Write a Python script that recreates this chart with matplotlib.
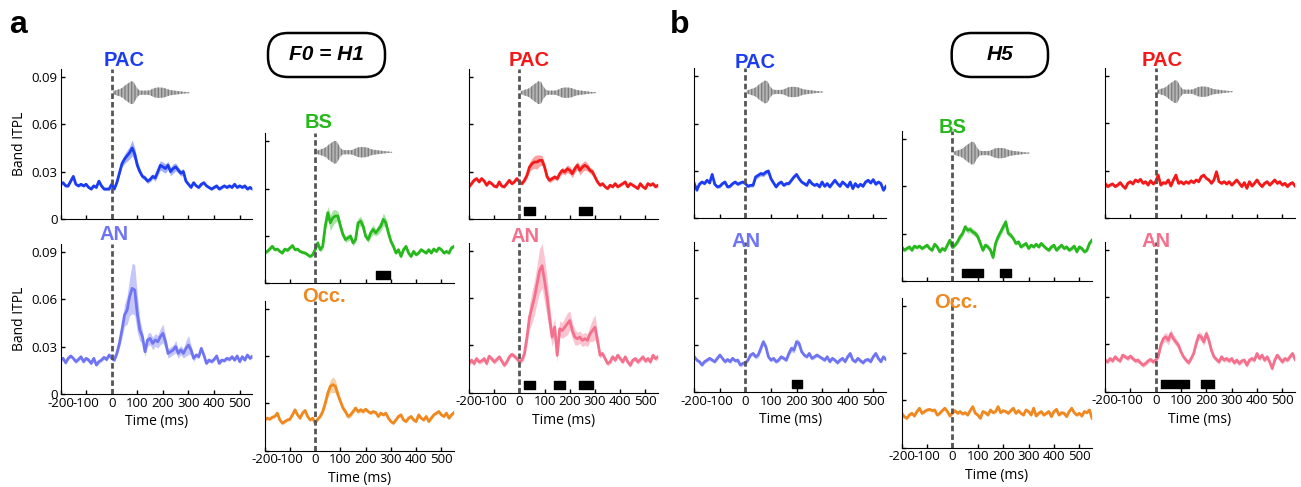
import numpy as np
import matplotlib
matplotlib.use("Agg")
import matplotlib.pyplot as plt
from matplotlib.patches import FancyBboxPatch
from matplotlib.transforms import blended_transform_factory

plt.rcParams['font.family'] = ['Open Sans', 'DejaVu Sans']
plt.rcParams['axes.unicode_minus'] = False
plt.rcParams['hatch.linewidth'] = 0.9

# time axis (ms), one sample every 10 ms
time_ms = np.arange(-200, 551, 10)

# ---- a: F0 = H1 (band ITPL, values in units of 1e-3) ----
pac_left_h1 = [22, 23, 21, 21, 24, 27, 22, 21, 22, 21,
               22, 20, 19, 21, 20, 24, 21, 19, 19, 19,
               22, 19, 23, 29, 35, 38, 40, 42, 45, 41,
               34, 30, 27, 26, 24, 25, 27, 26, 30, 34,
               33, 32, 34, 30, 32, 33, 31, 29, 30, 24,
               22, 20, 23, 21, 20, 22, 23, 21, 20, 19,
               20, 21, 19, 20, 21, 20, 21, 20, 22, 20,
               21, 20, 21, 19, 20, 19]
pac_left_h1_sem = [1, 1, 1, 1, 1, 1, 1, 1, 1, 1,
                   1, 1, 1, 1, 1, 1, 1, 1, 1, 1,
                   1, 1, 1, 1.5, 2, 3, 3.5, 4, 5, 4,
                   3, 2, 1.5, 1.5, 1.5, 1.5, 1.5, 2, 2.5, 3,
                   3, 3, 2.5, 2.5, 3, 2.5, 2, 2, 2, 1.5,
                   1, 1, 1, 1, 1, 1, 1, 1, 1, 1,
                   1, 1, 1, 1, 1, 1, 1, 1, 1, 1,
                   1, 1, 1, 1, 1, 1]

an_left_h1 = [21.5, 22.6, 19.8, 22.6, 24.1, 22.6, 20.5, 21.9, 23.6, 20.5,
              22.6, 21.5, 19.4, 22.6, 18.4, 20.5, 21.5, 23.2, 21.9, 24.7,
              22.6, 21.5, 25.7, 32.0, 40.5, 50.0, 53.0, 61.6, 66.9, 65.8,
              51.0, 40.5, 36.3, 26.8, 34.2, 35.2, 32.0, 34.2, 33.1, 36.3,
              38.4, 33.1, 25.7, 26.8, 27.9, 30.0, 25.7, 27.9, 25.7, 28.9,
              31.0, 27.9, 22.6, 24.7, 23.6, 28.9, 24.7, 19.4, 21.5, 20.5,
              21.9, 24.1, 19.4, 21.5, 21.1, 22.6, 21.9, 23.6, 21.5, 24.1,
              20.5, 23.6, 21.5, 24.7, 22.6, 24.1]
an_left_h1_sem = [1.2, 1.2, 1.2, 1.2, 1.2, 1.2, 1.2, 1.2, 1.2, 1.2,
                  1.2, 1.2, 1.2, 1.2, 1.2, 1.2, 1.2, 1.2, 1.2, 1.2,
                  1.2, 1.2, 2, 3, 5, 7, 9, 12, 16, 16,
                  12, 7, 4, 3, 4, 4, 4, 4, 4, 5,
                  6, 4, 3, 3, 3, 4, 3, 3, 3, 5,
                  6, 3, 2, 1.5, 1.2, 1.2, 1.2, 1.2, 1.2, 1.2,
                  1.2, 1.2, 1.2, 1.2, 1.2, 1.2, 1.2, 1.2, 1.2, 1.2,
                  1.2, 1.2, 1.2, 1.2, 1.2, 1.2]

bs_h1 = [19.2, 20.2, 21.7, 23.4, 21.3, 21.7, 20.2, 19.2, 21.7, 20.9,
         22.4, 23.9, 21.3, 21.7, 20.2, 19.6, 19.2, 18.1, 17.0, 18.1,
         21.3, 25.6, 21.3, 23.4, 36.2, 44.7, 38.3, 41.5, 42.6, 42.6,
         36.2, 30.9, 27.7, 28.8, 29.8, 25.6, 27.7, 38.3, 39.4, 36.2,
         29.8, 27.7, 32.0, 34.1, 32.0, 34.1, 36.2, 40.5, 38.3, 32.0,
         26.6, 23.4, 19.2, 21.3, 17.0, 21.3, 23.4, 19.2, 17.0, 20.2,
         18.1, 19.2, 21.3, 20.2, 19.2, 21.3, 19.2, 21.7, 20.2, 22.4,
         21.3, 19.2, 20.2, 19.2, 22.4, 23.4]
bs_h1_sem = [1, 1, 1, 1, 1, 1, 1, 1, 1, 1,
             1, 1, 1, 1, 1, 1, 1, 1, 1, 1,
             1, 1.5, 1.5, 2, 3, 4, 5, 5, 4, 3,
             3, 2, 2, 2, 2, 2, 2, 3, 3, 3,
             2, 2, 3, 3, 2, 3, 3, 4, 3, 2,
             2, 1.5, 1, 1, 1, 1, 1, 1, 1, 1,
             1, 1, 1, 1, 1, 1, 1, 1, 1, 1,
             1, 1, 1, 1, 1, 1]

occ_h1 = [19.5, 20.6, 20.0, 21.2, 21.7, 23.8, 19.5, 17.4, 18.5, 19.5,
          20.0, 22.7, 25.9, 22.7, 20.6, 23.8, 25.5, 21.7, 19.5, 20.6,
          17.4, 20.0, 21.7, 24.8, 30.1, 36.5, 40.8, 41.8, 40.8, 35.5,
          31.2, 27.0, 24.8, 21.7, 22.7, 24.8, 27.0, 24.8, 25.9, 24.8,
          26.3, 24.8, 23.8, 24.8, 24.2, 21.7, 23.8, 22.7, 23.8, 20.6,
          18.5, 17.4, 19.5, 21.7, 22.7, 19.5, 18.5, 20.6, 21.7, 19.5,
          18.5, 22.7, 20.6, 19.5, 21.7, 18.5, 20.6, 22.7, 23.8, 24.8,
          22.7, 21.7, 23.8, 20.6, 22.7, 24.2]
occ_h1_sem = [1, 1, 1, 1, 1, 1, 1, 1, 1, 1,
              1, 1, 1, 1, 1, 1, 1, 1, 1, 1,
              1, 1, 1, 1.5, 2, 3, 4, 5, 4, 3,
              2, 2, 1.5, 1.5, 1.5, 1.5, 1.5, 1.5, 1.5, 1.5,
              1, 1, 1, 1, 1, 1, 1, 1, 1, 1,
              1, 1, 1, 1, 1, 1, 1, 1, 1, 1,
              1, 1, 1, 1, 1, 1, 1, 1, 1, 1,
              1, 1, 1, 1, 1, 1]

pac_right_h1 = [20.4, 22.4, 24.5, 25.6, 23.5, 25.6, 24.1, 21.4, 23.5, 22.4,
                20.8, 20.4, 23.5, 20.8, 20.4, 22.4, 24.5, 22.4, 23.5, 25.6,
                23.5, 22.4, 24.5, 27.7, 32.9, 35.0, 36.1, 36.1, 37.1, 37.1,
                32.9, 26.6, 24.5, 25.6, 26.6, 25.6, 28.7, 30.8, 29.8, 31.9,
                30.8, 28.7, 31.9, 34.0, 30.8, 32.9, 34.0, 32.9, 30.8, 29.8,
                26.6, 23.5, 21.4, 22.4, 20.4, 19.3, 21.4, 20.4, 22.4, 20.4,
                21.4, 22.4, 23.5, 20.4, 22.4, 21.4, 20.4, 19.3, 22.4, 20.4,
                19.3, 22.4, 21.4, 22.4, 20.4, 21.4]
pac_right_h1_sem = [1, 1, 1, 1, 1, 1, 1, 1, 1, 1,
                    1, 1, 1, 1, 1, 1, 1, 1, 1, 1,
                    1, 1, 1.5, 2, 3, 3.5, 4, 4.5, 3.5, 3,
                    2.5, 2, 1.5, 1.5, 1.5, 1.5, 2, 2, 2, 2.5,
                    2.5, 2.5, 2.5, 2.5, 3, 3, 3, 2.5, 2, 2,
                    1.5, 1, 1, 1, 1, 1, 1, 1, 1, 1,
                    1, 1, 1, 1, 1, 1, 1, 1, 1, 1,
                    1, 1, 1, 1, 1, 1]

an_right_h1 = [18.5, 20.6, 18.5, 21.6, 19.5, 20.1, 21.6, 18.5, 23.1, 21.6,
               19.5, 21.0, 22.7, 20.1, 17.4, 19.5, 22.7, 24.3, 23.1, 21.6,
               19.5, 20.6, 24.8, 35.2, 47.8, 54.1, 60.4, 68.8, 77.2, 80.4,
               70.9, 60.4, 46.8, 35.2, 41.5, 23.7, 40.5, 39.4, 41.5, 43.6,
               45.7, 39.4, 35.2, 34.2, 35.2, 33.1, 34.2, 33.1, 37.3, 39.4,
               41.5, 33.1, 23.7, 24.8, 21.6, 18.5, 19.5, 22.7, 20.6, 23.7,
               21.6, 19.5, 22.7, 19.5, 17.4, 20.6, 21.6, 19.5, 21.0, 22.7,
               20.1, 21.6, 19.5, 23.7, 21.6, 22.7]
an_right_h1_sem = [1.5, 1.5, 1.5, 1.5, 1.5, 1.5, 1.5, 1.5, 1.5, 1.5,
                   1.5, 1.5, 1.5, 1.5, 1.5, 1.5, 1.5, 1.5, 1.5, 1.5,
                   1.5, 1.5, 3, 5, 8, 10, 11, 12, 14, 14,
                   14, 12, 9, 6, 6, 4, 5, 5, 6, 7,
                   6, 5, 5, 4, 4, 4, 4, 4, 5, 7,
                   8, 4, 2, 1.5, 1.5, 1.5, 1.5, 1.5, 1.5, 1.5,
                   1.5, 1.5, 1.5, 1.5, 1.5, 1.5, 1.5, 1.5, 1.5, 1.5,
                   1.5, 1.5, 1.5, 1.5, 1.5, 1.5]

# ---- b: H5 ----
pac_left_h5 = [22.0, 17.8, 21.6, 23.0, 22.0, 24.1, 22.4, 27.8, 21.6, 19.9,
               20.3, 22.0, 23.0, 19.9, 20.3, 22.0, 23.0, 21.6, 22.4, 23.0,
               22.0, 20.3, 20.9, 20.9, 26.2, 27.2, 28.3, 27.8, 29.3, 29.9,
               25.1, 22.4, 19.9, 22.0, 23.0, 20.9, 22.0, 22.0, 24.1, 26.2,
               27.8, 25.1, 23.0, 22.0, 20.9, 24.1, 22.0, 20.9, 21.6, 19.9,
               23.0, 20.3, 22.0, 19.9, 22.0, 24.1, 22.0, 20.3, 23.0, 21.6,
               19.9, 23.0, 18.8, 22.0, 19.9, 21.6, 20.3, 23.0, 24.1, 22.4,
               24.5, 21.6, 23.0, 22.0, 17.8, 20.3]
pac_left_h5_sem = [1, 1, 1, 1, 1, 1, 1, 1, 1, 1,
                   1, 1, 1, 1, 1, 1, 1, 1, 1, 1,
                   1, 1, 1, 1, 1.5, 1.5, 1.5, 1.5, 1.5, 1.5,
                   1.5, 1, 1, 1, 1, 1, 1, 1, 1, 1,
                   1, 1, 1, 1, 1, 1, 1, 1, 1, 1,
                   1, 1, 1, 1, 1, 1, 1, 1, 1, 1,
                   1, 1, 1, 1, 1, 1, 1, 1, 1, 1,
                   1, 1, 1, 1, 1, 1]

an_left_h5 = [22.5, 20.4, 19.4, 17.3, 19.4, 20.4, 21.5, 20.4, 19.4, 21.5,
              23.6, 21.5, 19.4, 20.8, 19.4, 21.5, 20.0, 20.4, 17.3, 18.3,
              18.7, 20.4, 23.6, 24.6, 22.5, 23.6, 27.8, 32.0, 28.8, 22.5,
              20.4, 21.5, 19.4, 20.4, 22.5, 21.5, 20.4, 24.6, 27.8, 26.7,
              32.0, 30.9, 25.7, 23.6, 22.5, 24.6, 21.5, 22.5, 23.6, 22.5,
              21.5, 20.4, 22.5, 19.4, 21.5, 20.4, 18.7, 20.4, 21.5, 19.4,
              22.5, 24.6, 20.4, 19.4, 21.5, 20.0, 18.7, 20.4, 20.8, 19.4,
              22.5, 24.6, 21.5, 19.4, 22.5, 20.8]
an_left_h5_sem = [1.2, 1.2, 1.2, 1.2, 1.2, 1.2, 1.2, 1.2, 1.2, 1.2,
                  1.2, 1.2, 1.2, 1.2, 1.2, 1.2, 1.2, 1.2, 1.2, 1.2,
                  1.2, 1.2, 1.2, 1.2, 1.5, 1.5, 2, 2, 2, 1.5,
                  1.2, 1.2, 1.2, 1.2, 1.2, 1.2, 1.2, 1.5, 2, 2,
                  2, 2, 1.5, 1.2, 1.2, 1.2, 1.2, 1.2, 1.2, 1.2,
                  1.2, 1.2, 1.2, 1.2, 1.2, 1.2, 1.2, 1.2, 1.2, 1.2,
                  1.2, 1.2, 1.2, 1.2, 1.2, 1.2, 1.2, 1.2, 1.2, 1.2,
                  1.2, 1.2, 1.2, 1.2, 1.2, 1.2]

bs_h5 = [21.6, 19.5, 20.6, 21.6, 19.5, 22.1, 21.2, 22.1, 20.6, 21.6,
         22.7, 20.6, 19.5, 23.3, 21.6, 18.5, 20.6, 19.5, 22.7, 25.9,
         21.2, 22.7, 24.8, 28.0, 30.1, 34.3, 32.2, 32.6, 31.1, 30.1,
         28.0, 23.8, 19.5, 22.7, 21.6, 19.5, 14.9, 23.8, 28.0, 31.1,
         34.3, 37.4, 30.1, 29.0, 26.9, 23.8, 24.8, 21.6, 22.7, 23.8,
         20.6, 22.7, 21.6, 23.3, 21.6, 23.8, 22.1, 20.6, 19.5, 21.6,
         22.7, 19.5, 21.2, 22.7, 20.6, 21.6, 19.5, 20.6, 22.1, 18.5,
         21.6, 20.6, 18.5, 19.5, 23.8, 25.9]
bs_h5_sem = [1.2, 1.2, 1.2, 1.2, 1.2, 1.2, 1.2, 1.2, 1.2, 1.2,
             1.2, 1.2, 1.2, 1.2, 1.2, 1.2, 1.2, 1.2, 1.2, 1.2,
             1.2, 1.2, 1.5, 2, 2, 2, 2, 2, 2, 2,
             2, 2, 1.5, 1.5, 1.5, 1.5, 1.5, 1.5, 2, 2.5,
             2.5, 2.5, 2, 1.5, 1.2, 1.2, 1.2, 1.2, 1.2, 1.2,
             1.2, 1.2, 1.2, 1.2, 1.2, 1.2, 1.2, 1.2, 1.2, 1.2,
             1.2, 1.2, 1.2, 1.2, 1.2, 1.2, 1.2, 1.2, 1.2, 1.2,
             1.2, 1.2, 1.2, 1.2, 1.2, 1.2]

occ_h5 = [21.8, 19.7, 18.6, 20.7, 21.8, 20.1, 22.9, 25.0, 21.8, 22.9,
          23.9, 24.3, 23.5, 23.9, 20.7, 21.8, 23.5, 25.0, 22.9, 20.1,
          22.2, 23.5, 21.8, 22.9, 21.4, 22.2, 20.7, 23.5, 26.0, 21.8,
          20.7, 18.6, 22.9, 22.2, 20.7, 23.9, 22.2, 22.9, 26.0, 22.2,
          23.5, 22.9, 21.8, 23.5, 25.0, 21.8, 23.5, 21.8, 20.7, 23.9,
          22.9, 20.7, 25.0, 20.1, 21.8, 22.9, 20.7, 21.8, 22.9, 19.7,
          22.9, 24.3, 20.7, 22.2, 21.8, 19.7, 22.9, 25.0, 22.2, 20.7,
          21.8, 20.1, 22.9, 22.2, 23.9, 18.6]
occ_h5_sem = [1, 1, 1, 1, 1, 1, 1, 1, 1, 1,
              1, 1, 1, 1, 1, 1, 1, 1, 1, 1,
              1, 1, 1, 1, 1, 1, 1, 1, 1, 1,
              1, 1, 1, 1, 1, 1, 1, 1, 1, 1,
              1, 1, 1, 1, 1, 1, 1, 1, 1, 1,
              1, 1, 1, 1, 1, 1, 1, 1, 1, 1,
              1, 1, 1, 1, 1, 1, 1, 1, 1, 1,
              1, 1, 1, 1, 1, 1]

pac_right_h5 = [22.0, 19.9, 20.9, 21.6, 19.9, 20.9, 22.4, 20.3, 18.8, 22.0,
                23.0, 21.6, 24.1, 23.0, 24.5, 22.0, 23.0, 20.9, 23.6, 21.6,
                23.0, 27.2, 20.9, 22.4, 22.0, 24.1, 20.3, 24.1, 27.2, 22.0,
                23.0, 21.6, 23.0, 22.0, 23.6, 22.4, 24.1, 23.0, 26.2, 27.2,
                25.1, 24.1, 22.0, 24.1, 29.3, 23.0, 22.0, 23.0, 21.6, 23.0,
                20.9, 22.4, 24.1, 22.0, 19.9, 22.4, 18.8, 23.0, 20.3, 22.0,
                24.1, 21.6, 19.9, 22.0, 23.0, 20.9, 22.4, 24.1, 22.0, 23.0,
                20.9, 22.0, 19.9, 21.6, 22.4, 20.3]
pac_right_h5_sem = [1, 1, 1, 1, 1, 1, 1, 1, 1, 1,
                    1, 1, 1, 1, 1, 1, 1, 1, 1, 1,
                    1, 1, 1, 1, 1, 1, 1, 1, 1, 1,
                    1, 1, 1, 1, 1, 1, 1, 1, 1, 1,
                    1, 1, 1, 1, 1, 1, 1, 1, 1, 1,
                    1, 1, 1, 1, 1, 1, 1, 1, 1, 1,
                    1, 1, 1, 1, 1, 1, 1, 1, 1, 1,
                    1, 1, 1, 1, 1, 1]

an_right_h5 = [20.0, 18.9, 21.0, 19.5, 22.1, 20.4, 19.5, 23.1, 22.1, 21.0,
               22.5, 21.0, 19.5, 20.0, 18.3, 16.8, 17.9, 19.5, 20.4, 18.9,
               20.0, 22.1, 29.4, 33.6, 34.7, 32.6, 36.8, 33.6, 31.5, 29.4,
               25.2, 22.1, 20.0, 18.3, 21.0, 24.2, 30.5, 35.7, 34.7, 31.5,
               36.8, 32.6, 26.3, 22.1, 20.4, 18.9, 22.1, 20.0, 21.0, 19.5,
               21.0, 18.3, 20.0, 17.9, 19.5, 20.0, 16.8, 20.0, 21.0, 20.0,
               24.2, 21.0, 23.1, 20.0, 22.1, 18.9, 14.7, 20.0, 23.1, 21.0,
               18.9, 21.0, 20.0, 22.1, 24.2, 20.4]
an_right_h5_sem = [1.5, 1.5, 1.5, 1.5, 1.5, 1.5, 1.5, 1.5, 1.5, 1.5,
                   1.5, 1.5, 1.5, 1.5, 1.5, 1.5, 1.5, 1.5, 1.5, 1.5,
                   1.5, 1.5, 2.5, 2.5, 3, 3, 3, 2.5, 2.5, 2,
                   1.5, 1.5, 1.5, 1.5, 1.5, 1.5, 2, 2.5, 2.5, 2.5,
                   2.5, 2.5, 2, 1.5, 1.5, 1.5, 1.5, 1.5, 1.5, 1.5,
                   1.5, 1.5, 1.5, 1.5, 1.5, 1.5, 1.5, 1.5, 1.5, 1.5,
                   1.5, 1.5, 1.5, 1.5, 1.5, 1.5, 1.5, 1.5, 1.5, 1.5,
                   1.5, 1.5, 1.5, 1.5, 1.5, 1.5]

# stimulus waveform envelope (half amplitude, 1e-3), drawn above the top panels
wave_ms = np.arange(5, 306, 10)
wave_env = [0.8, 1.5, 2.0, 2.5, 3.5, 5.0, 6.0, 7.2, 7.0, 4.0,
            1.8, 1.3, 1.3, 1.3, 1.4, 2.0, 2.8, 3.2, 3.3, 3.2,
            3.0, 2.4, 1.8, 1.5, 1.3, 1.1, 0.9, 0.7, 0.5, 0.4, 0.2]

# significant time windows (ms)
bars_bs_h1 = [(240, 298)]
bars_pac_right_h1 = [(17, 60), (238, 287)]
bars_an_right_h1 = [(17, 60), (139, 181), (238, 291)]
bars_an_left_h5 = [(183, 222)]
bars_bs_h5 = [(39, 122), (189, 231)]
bars_an_right_h5 = [(20, 131), (178, 231)]

col_pac_l = '#1c3cf2'
col_an_l = '#6f74f3'
col_bs = '#26b81c'
col_occ = '#f08820'
col_pac_r = '#f41818'
col_an_r = '#f4708c'

W, H = 1301, 487
fig = plt.figure(figsize=(W / 100, H / 100), dpi=100)

# (mean, sem, color, name, (left px, bottom px, right px), title (ms, y px),
#  waveform centre or None, sig bars, y labels, x labels)
panels = [
    (pac_left_h1, pac_left_h1_sem, col_pac_l, 'PAC', (60.5, 219, 252.5), (-33, 61), 0.080, [], True, False),
    (an_left_h1, an_left_h1_sem, col_an_l, 'AN', (60.5, 394, 252.5), (-46, 235), None, [], True, True),
    (bs_h1, bs_h1_sem, col_bs, 'BS', (264.7, 283.3, 454), (-40, 123), 0.083, bars_bs_h1, False, False),
    (occ_h1, occ_h1_sem, col_occ, 'Occ.', (264.7, 450.7, 454), (-53, 297), None, [], False, True),
    (pac_right_h1, pac_right_h1_sem, col_pac_r, 'PAC', (469, 219, 658), (-41, 60), 0.080, bars_pac_right_h1, False, False),
    (an_right_h1, an_right_h1_sem, col_an_r, 'AN', (469, 392.7, 658), (-36, 236), None, bars_an_right_h1, False, True),
    (pac_left_h5, pac_left_h5_sem, col_pac_l, 'PAC', (694.3, 218.3, 886), (-43, 62), 0.080, [], False, False),
    (an_left_h5, an_left_h5_sem, col_an_l, 'AN', (694.3, 392.3, 886), (-56, 241.5), None, bars_an_left_h5, False, True),
    (bs_h5, bs_h5_sem, col_bs, 'BS', (901.7, 281, 1092), (-56, 127.5), 0.081, bars_bs_h5, False, False),
    (occ_h5, occ_h5_sem, col_occ, 'Occ.', (901.7, 447.7, 1092), (-72, 302.5), None, [], False, True),
    (pac_right_h5, pac_right_h5_sem, col_pac_r, 'PAC', (1105, 218, 1295), (-55, 61), 0.080, [], False, False),
    (an_right_h5, an_right_h5_sem, col_an_r, 'AN', (1105, 391.7, 1295), (-55, 241.5), None, bars_an_right_h5, False, True),
]

for mean, sem, color, name, (l, b, r), (tx, ty), wave_y, bars, ylab, xlab in panels:
    ax = fig.add_axes([l / W, 1 - b / H, (r - l) / W, 150 / H])
    m = np.array(mean) / 1000
    s = np.array(sem) / 1000
    ax.fill_between(time_ms, m - s, m + s, color=color, alpha=0.4, lw=0)
    ax.plot(time_ms, m, color=color, lw=2)
    ax.axvline(0, color='#555555', lw=2, ls=(0, (2, 1.1)), zorder=3)
    if wave_y is not None:
        env = np.array(wave_env) / 1000
        ax.fill_between(wave_ms, wave_y - env, wave_y + env, facecolor='#b4b4b4',
                        edgecolor='#7c7c7c', hatch='|||||', lw=0)
    for t0, t1 in bars:
        ax.broken_barh([(t0, t1 - t0)], (0.0025, 0.005), color='black')

    ax.set_xlim(-200, 550)
    ax.set_ylim(0, 0.095)
    ax.set_xticks(range(-200, 501, 100))
    ax.set_yticks([0, 0.03, 0.06, 0.09])
    ax.spines['top'].set_visible(False)
    ax.spines['right'].set_visible(False)
    ax.tick_params(direction='in', length=3, width=1, labelsize=9.5, pad=2)
    if ylab:
        ax.set_yticklabels(['0', '0.03', '0.06', '0.09'])
        ax.set_ylabel('Band ITPL', fontsize=10, labelpad=3)
    else:
        ax.set_yticklabels([])
    if xlab:
        ax.set_xlabel('Time (ms)', fontsize=10, labelpad=3)
    else:
        ax.set_xticklabels([])

    trans = blended_transform_factory(ax.transData, fig.transFigure)
    ax.text(tx, 1 - ty / H, name, transform=trans, ha='left', va='center',
            color=color, fontsize=14.5, fontweight='bold', family=['Liberation Sans'],
            clip_on=False)

# condition boxes
for x0, x1, label in [(268, 385, 'F0 = H1'), (951.7, 1048, 'H5')]:
    box = FancyBboxPatch((x0 / 100, (H - 77) / 100), (x1 - x0) / 100, 0.44,
                         boxstyle='round,pad=0,rounding_size=0.2',
                         transform=fig.dpi_scale_trans, fc='none', ec='black', lw=1.8)
    fig.patches.append(box)
    fig.text((x0 + x1) / 200, (H - 55) / 100, label, transform=fig.dpi_scale_trans,
             ha='center', va='center', fontsize=15, fontweight='bold', fontstyle='italic',
             family=['Liberation Sans'])

fig.text(9 / W, 1 - 33 / H, 'a', fontsize=23, fontweight='bold', family=['Liberation Sans'],
         va='baseline')
fig.text(670 / W, 1 - 33 / H, 'b', fontsize=23, fontweight='bold', family=['Liberation Sans'],
         va='baseline')

fig.savefig('out.png', dpi=100)
